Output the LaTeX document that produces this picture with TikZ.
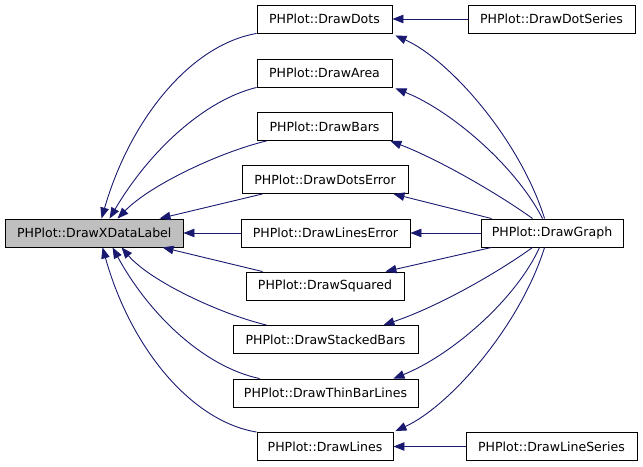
\documentclass[tikz,border=0pt]{standalone}
\usepackage{fontspec}
\setmainfont{DejaVu Sans}
\usetikzlibrary{arrows.meta,calc}
\definecolor{edgeblue}{HTML}{191970}
\definecolor{focusgray}{HTML}{BFBFBF}
\tikzset{
  fn/.style={draw=black, line width=0.9bp, fill=white, minimum height=28bp, inner sep=0pt,
             font=\fontsize{12.6}{14}\selectfont, text=black},
  edge/.style={draw=edgeblue, line width=0.9bp, -{Triangle[length=11bp,width=8.5bp]}},
}
\begin{document}
\begin{tikzpicture}[x=1bp,y=-1bp]
\useasboundingbox (0,0) rectangle (643,467);
% nodes
\node[fn, fill=focusgray, minimum width=177.5bp] (xd) at (94.25,233) {PHPlot::DrawXDataLabel};
\node[fn, minimum width=135bp] (dots) at (324.5,19) {PHPlot::DrawDots};
\node[fn, minimum width=135bp] (area) at (324.5,73) {PHPlot::DrawArea};
\node[fn, minimum width=135bp] (bars) at (324.5,126.5) {PHPlot::DrawBars};
\node[fn, minimum width=166bp] (dotserr) at (325,179.5) {PHPlot::DrawDotsError};
\node[fn, minimum width=169bp] (lineserr) at (325.5,233) {PHPlot::DrawLinesError};
\node[fn, minimum width=158bp] (squared) at (325,286) {PHPlot::DrawSquared};
\node[fn, minimum width=185bp] (stacked) at (325.5,339.5) {PHPlot::DrawStackedBars};
\node[fn, minimum width=185bp] (thin) at (325.5,393) {PHPlot::DrawThinBarLines};
\node[fn, minimum width=136bp] (lines) at (325,446.5) {PHPlot::DrawLines};
\node[fn, minimum width=167bp] (dotseries) at (551.5,19) {PHPlot::DrawDotSeries};
\node[fn, minimum width=171bp] (lineseries) at (551.5,446.5) {PHPlot::DrawLineSeries};
\node[fn, minimum width=142bp] (graph) at (552,233) {PHPlot::DrawGraph};

% edges into DrawXDataLabel (top side)
\draw[edge] (dots.south west) .. controls (190,45) and (130,120) .. ($(xd.north west)+(96.5,0)$);
\draw[edge] (area.south west) .. controls (205,100) and (150,150) .. ($(xd.north west)+(104.5,0)$);
\draw[edge] ($(bars.south west)+(10,0)$) .. controls (220,152) and (150,185) .. ($(xd.north west)+(112.5,0)$);
\draw[edge] ($(dotserr.south west)+(21,0)$) -- ($(xd.north west)+(154.5,0)$);
% middle
\draw[edge] (lineserr.west) -- (xd.east);
% bottom side
\draw[edge] ($(squared.north west)+(17,0)$) -- ($(xd.south west)+(157.5,0)$);
\draw[edge] ($(stacked.north west)+(34,0)$) .. controls (220,314) and (150,281) .. ($(xd.south west)+(116.5,0)$);
\draw[edge] ($(thin.north west)+(27,0)$) .. controls (205,367) and (150,316) .. ($(xd.south west)+(107.5,0)$);
\draw[edge] (lines.north west) .. controls (190,421) and (130,346) .. ($(xd.south west)+(97.5,0)$);

% series callers
\draw[edge] (dotseries.west) -- (dots.east);
\draw[edge] (lineseries.west) -- (lines.east);

% DrawGraph callers
\draw[edge] ($(graph.north west)+(64,0)$) .. controls (520,140) and (450,60) .. ($(dots.south east)+(3,2)$);
\draw[edge] ($(graph.north west)+(62,0)$) .. controls (515,165) and (450,110) .. ($(area.south east)+(3,1)$);
\draw[edge] ($(graph.north west)+(52,0)$) .. controls (500,195) and (440,160) .. ($(bars.south east)+(-2,0)$);
\draw[edge] ($(graph.north west)+(11,0)$) -- ($(dotserr.south east)+(-15,0)$);
\draw[edge] (graph.west) -- (lineserr.east);
\draw[edge] ($(graph.south west)+(11,0)$) -- ($(squared.north east)+(-19,0)$);
\draw[edge] ($(graph.south west)+(52,0)$) .. controls (500,271) and (440,306) .. ($(stacked.north east)+(-35,0)$);
\draw[edge] ($(graph.south west)+(59,0)$) .. controls (515,301) and (450,356) .. ($(thin.north east)+(-25,0)$);
\draw[edge] ($(graph.south west)+(64,0)$) .. controls (520,326) and (450,406) .. ($(lines.north east)+(2,-1)$);
\end{tikzpicture}
\end{document}
